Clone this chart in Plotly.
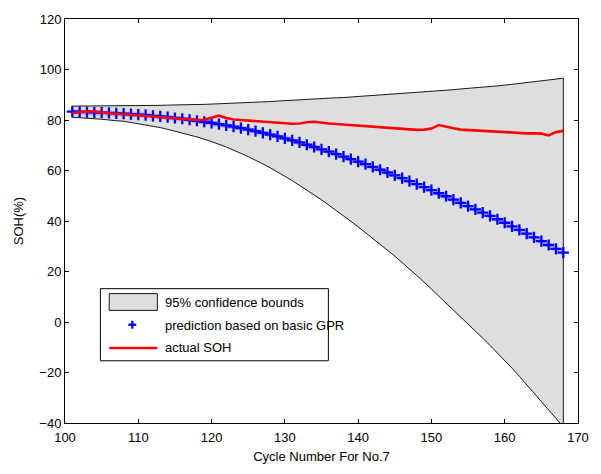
import plotly.graph_objects as go

# Cycle index of battery No.7 over the prediction window
cycles = list(range(101, 169))

# GPR predicted SOH (%) per cycle
pred_soh = [
    83.3, 83.2, 83.1, 83.0, 82.9, 82.8, 82.6, 82.5, 82.3, 82.1,
    81.9, 81.6, 81.4, 81.1, 80.8, 80.5, 80.1, 79.7, 79.3, 78.9,
    78.4, 77.9, 77.4, 76.8, 76.2, 75.6, 74.9, 74.2, 73.5, 72.7,
    71.9, 71.1, 70.2, 69.3, 68.4, 67.5, 66.5, 65.5, 64.5, 63.5,
    62.5, 61.4, 60.3, 59.2, 58.1, 57.0, 55.8, 54.6, 53.4, 52.2,
    51.0, 49.8, 48.5, 47.2, 45.9, 44.6, 43.3, 42.0, 40.7, 39.3,
    37.9, 36.5, 35.0, 33.5, 32.0, 30.5, 29.0, 27.5,
]

# Upper / lower 95% confidence bounds (%)
upper_bound = [
    85.5, 85.5, 85.5, 85.5, 85.5, 85.5, 85.5, 85.5, 85.6, 85.6,
    85.7, 85.7, 85.8, 85.9, 85.9, 86.0, 86.1, 86.1, 86.2, 86.3,
    86.4, 86.5, 86.6, 86.8, 86.9, 87.0, 87.2, 87.3, 87.5, 87.7,
    87.8, 88.0, 88.1, 88.3, 88.4, 88.6, 88.8, 88.9, 89.1, 89.3,
    89.4, 89.6, 89.8, 90.0, 90.1, 90.3, 90.5, 90.8, 91.0, 91.3,
    91.5, 91.8, 92.0, 92.3, 92.5, 92.8, 93.0, 93.3, 93.5, 93.8,
    94.1, 94.5, 94.8, 95.2, 95.5, 95.8, 96.2, 96.6,
]
lower_bound = [
    81.1, 80.9, 80.7, 80.5, 80.3, 80.1, 79.7, 79.5, 79.0, 78.6,
    78.1, 77.5, 77.0, 76.3, 75.7, 75.0, 74.1, 73.3, 72.4, 71.5,
    70.4, 69.3, 68.2, 66.8, 65.5, 64.2, 62.6, 61.1, 59.5, 57.7,
    56.0, 54.2, 52.3, 50.3, 48.4, 46.4, 44.2, 42.1, 39.9, 37.7,
    35.6, 33.2, 30.8, 28.4, 26.1, 23.7, 21.1, 18.4, 15.8, 13.1,
    10.5, 7.8, 5.0, 2.1, -0.7, -3.6, -6.4, -9.3, -12.1, -15.2,
    -18.3, -21.5, -24.8, -28.2, -31.5, -34.8, -38.2, -41.6,
]

# Measured SOH (%)
actual_soh = [
    82.8, 83.1, 83.4, 83.4, 83.0, 82.7, 82.5, 82.3, 82.1, 81.9,
    81.6, 81.4, 81.2, 81.0, 80.7, 80.4, 80.2, 80.0, 80.1, 81.0,
    81.7, 80.8, 80.2, 80.0, 79.8, 79.7, 79.5, 79.3, 79.1, 78.8,
    78.5, 78.6, 79.1, 79.3, 78.9, 78.6, 78.4, 78.2, 78.0, 77.8,
    77.6, 77.4, 77.2, 77.0, 76.8, 76.5, 76.2, 76.1, 76.2, 76.6,
    78.0, 77.2, 76.7, 76.2, 76.0, 75.8, 75.6, 75.4, 75.2, 75.0,
    74.8, 74.7, 74.7, 74.7, 74.6, 73.9, 75.2, 75.7,
]

legend_labels = ["95% confidence bounds", "prediction based on basic GPR", "actual SOH"]

FONT = "Arial, 'Liberation Sans', Helvetica, sans-serif"

fig = go.Figure()

# Confidence band as a closed polygon with black edges
fig.add_trace(go.Scatter(
    x=cycles + cycles[::-1] + [cycles[0]],
    y=upper_bound + lower_bound[::-1] + [upper_bound[0]],
    mode="lines", fill="toself",
    fillcolor="rgb(222,222,222)",
    line=dict(color="black", width=0.9),
    hoverinfo="skip", showlegend=False,
))

# Soft halo beneath the prediction markers
fig.add_trace(go.Scatter(
    x=cycles, y=pred_soh, mode="lines",
    line=dict(color="rgba(60,60,255,0.28)", width=5),
    hoverinfo="skip", showlegend=False,
))

# GPR prediction markers
fig.add_trace(go.Scatter(
    x=cycles, y=pred_soh, mode="markers",
    marker=dict(symbol="cross-thin", size=8,
                line=dict(color="rgb(0,0,255)", width=2.3)),
    showlegend=False,
))

# Actual SOH
fig.add_trace(go.Scatter(
    x=cycles, y=actual_soh, mode="lines",
    line=dict(color="rgb(255,0,0)", width=2.6),
    showlegend=False,
))

# Plot-area geometry in pixels (used for the boxed legend)
W, H = 601, 474
L, R, T, B = 65, 14, 17, 48
pw, ph = W - L - R, H - T - B


def px(xp):
    return (xp - L) / pw


def py(yp):
    return (H - B - yp) / ph


shapes = []
# legend frame
shapes.append(dict(type="rect", xref="paper", yref="paper",
                   x0=px(101), x1=px(333), y0=py(363), y1=py(290),
                   line=dict(color="black", width=1), fillcolor="white", layer="above"))
# band swatch
shapes.append(dict(type="rect", xref="paper", yref="paper",
                   x0=px(110), x1=px(159), y0=py(312), y1=py(295),
                   line=dict(color="black", width=0.9), fillcolor="rgb(222,222,222)", layer="above"))
# plus glyph
cx, cy = 133.5, 326.5
shapes.append(dict(type="line", xref="paper", yref="paper",
                   x0=px(cx - 4), x1=px(cx + 4), y0=py(cy), y1=py(cy),
                   line=dict(color="rgb(0,0,255)", width=2.3), layer="above"))
shapes.append(dict(type="line", xref="paper", yref="paper",
                   x0=px(cx), x1=px(cx), y0=py(cy - 4), y1=py(cy + 4),
                   line=dict(color="rgb(0,0,255)", width=2.3), layer="above"))
# red line glyph
shapes.append(dict(type="line", xref="paper", yref="paper",
                   x0=px(110), x1=px(159), y0=py(350), y1=py(350),
                   line=dict(color="rgb(255,0,0)", width=2.6), layer="above"))

annotations = []
for label, yrow in zip(legend_labels, [304.5, 327, 350]):
    annotations.append(dict(text=label, xref="paper", yref="paper",
                            x=px(165), y=py(yrow), xanchor="left", yanchor="middle",
                            showarrow=False, font=dict(family=FONT, size=13, color="black")))

axis_common = dict(
    showgrid=False, zeroline=False, showline=True, linecolor="black", linewidth=1,
    mirror="ticks", ticks="inside", ticklen=4, tickcolor="black", tickwidth=1,
    tickfont=dict(family=FONT, size=13, color="black"),
)

fig.update_layout(
    width=W, height=H,
    margin=dict(l=L, r=R, t=T, b=B),
    paper_bgcolor="white", plot_bgcolor="white",
    showlegend=False,
    shapes=shapes, annotations=annotations,
    xaxis=dict(range=[100, 170], tick0=100, dtick=10, ticklabelstandoff=2,
               title=dict(text="Cycle Number For No.7", standoff=8,
                          font=dict(family=FONT, size=13, color="black")),
               **axis_common),
    yaxis=dict(range=[-40, 120], tick0=-40, dtick=20,
               title=dict(text="SOH(%)", standoff=12,
                          font=dict(family=FONT, size=13, color="black")),
               **axis_common),
)

fig.write_html("out.html")
